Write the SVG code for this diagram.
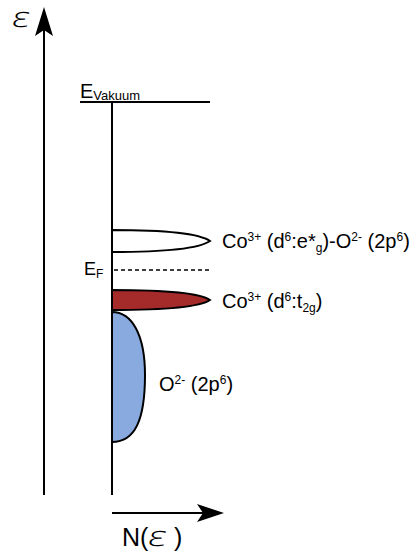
<svg xmlns="http://www.w3.org/2000/svg" width="411" height="557" viewBox="0 0 411 557">
<style>
.ax{stroke:#000;stroke-width:2;fill:none}
.pk{stroke:#000;stroke-width:2}
.t{font-family:"Liberation Sans",Arial,sans-serif;font-size:20px;fill:#000}
.s{font-size:12px}
.eps{font-family:"Open Sans","DejaVu Sans",sans-serif;font-weight:300;font-size:28px;fill:#000}
</style>
<rect width="411" height="557" fill="#fff"/>
<g id="connectors">
<line class="ax" x1="44" y1="495" x2="44" y2="25"/>
<path d="M44,7 L53,36 L44,30 L35,36 Z" fill="#000"/>
<line class="ax" x1="112" y1="102" x2="112" y2="495"/>
<line class="ax" x1="80" y1="102" x2="210" y2="102"/>
<line x1="114" y1="270" x2="210" y2="270" stroke="#000" stroke-width="1.5" stroke-dasharray="4,3"/>
<line class="ax" x1="112" y1="513" x2="205" y2="513"/>
<path d="M224,513 L197,504 L203,513 L197,522 Z" fill="#000"/>
</g>
<g id="axis-labels">
<text class="eps" transform="translate(11,27) scale(1.35,1) skewX(-8)" x="0" y="0">ε</text>
<text class="t" x="122" y="546" style="font-size:25px">N(</text>
<text class="eps" transform="translate(147,546) scale(1.4,1) skewX(-8)" x="0" y="0">ε</text>
<text class="t" x="174" y="546" style="font-size:25px">)</text>
</g>
<g id="vacuum">
<text class="t" x="80" y="98">E<tspan class="s" dy="2" style="font-size:13px">Vakuum</tspan></text>
</g>
<g id="fermi">
<text class="t" x="84" y="275" style="font-size:18px">E<tspan class="s" dy="3">F</tspan></text>
</g>
<g id="eg-band">
<path class="pk" fill="#fff" d="M112,230 C165,230 200,234 210,241 C200,248 165,252 112,252 Z"/>
<text class="t" x="222" y="248">Co<tspan class="s" dy="-7">3+</tspan><tspan dy="7"> (d</tspan><tspan class="s" dy="-7">6</tspan><tspan dy="7">:e*</tspan><tspan class="s" dy="4">g</tspan><tspan dy="-4">)-O</tspan><tspan class="s" dy="-7">2-</tspan><tspan dy="7"> (2p</tspan><tspan class="s" dy="-7">6</tspan><tspan dy="7">)</tspan></text>
</g>
<g id="t2g-band">
<path class="pk" fill="#a52a2a" d="M112,290 C165,290 200,293 210,300 C200,307 165,310 112,310 Z"/>
<text class="t" x="222" y="308">Co<tspan class="s" dy="-7">3+</tspan><tspan dy="7"> (d</tspan><tspan class="s" dy="-7">6</tspan><tspan dy="7">:t</tspan><tspan class="s" dy="4">2g</tspan><tspan dy="-4">)</tspan></text>
</g>
<g id="o2p-band">
<path class="pk" fill="#88aadf" d="M112,312 C132,312 145,335 145,375 C145,420 135,442 112,442 Z"/>
<text class="t" x="159" y="391">O<tspan class="s" dy="-7">2-</tspan><tspan dy="7"> (2p</tspan><tspan class="s" dy="-7">6</tspan><tspan dy="7">)</tspan></text>
</g>
</svg>
